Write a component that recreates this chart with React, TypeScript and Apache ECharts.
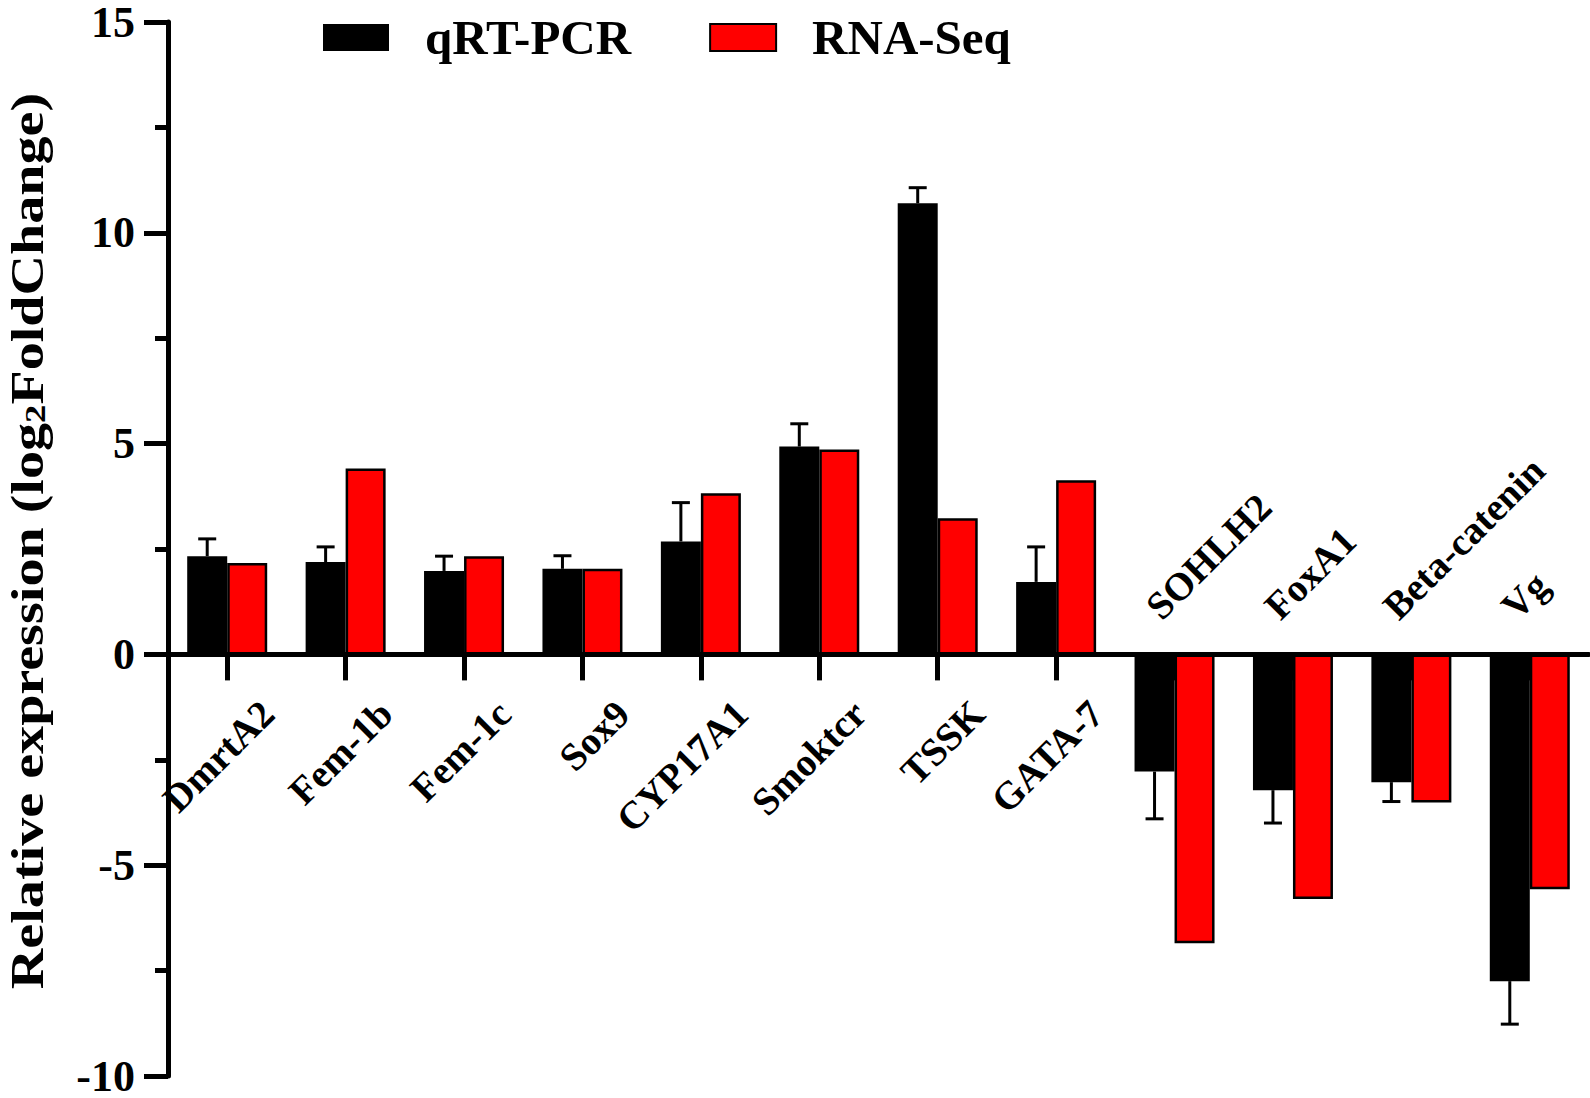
import React, { useEffect, useRef } from 'react';
import * as echarts from 'echarts';

const categories = ['DmrtA2', 'Fem-1b', 'Fem-1c', 'Sox9', 'CYP17A1', 'Smoktcr', 'TSSK', 'GATA-7', 'SOHLH2', 'FoxA1', 'Beta-catenin', 'Vg'];
const qrtPcr = [2.33, 2.19, 1.98, 2.03, 2.68, 4.93, 10.7, 1.72, -2.78, -3.22, -3.03, -7.75];
const qrtPcrError = [0.41, 0.36, 0.35, 0.31, 0.92, 0.54, 0.37, 0.83, 1.12, 0.78, 0.46, 1.02];
const rnaSeq = [2.17, 4.41, 2.33, 2.03, 3.82, 4.86, 3.23, 4.13, -6.85, -5.8, -3.51, -5.57];
const seriesNames = ['qRT-PCR', 'RNA-Seq'];
const yTitle = '{a|Relative expression (log}{b|2}{a|FoldChange)}';
const yMin = -10;
const yMax = 15;
const yInterval = 5;

const SERIF = '"Liberation Serif", "Times New Roman", serif';
const BAR_W = 40;

export default function App() {
  const ref = useRef<HTMLDivElement>(null);

  useEffect(() => {
    if (!ref.current) return;
    const chart = echarts.init(ref.current, null, { renderer: 'svg' });

    const option: any = {
      animation: false,
      backgroundColor: '#ffffff',
      grid: { left: 168, right: 1, top: 16, bottom: 19, containLabel: false },
      legend: {
        data: seriesNames,
        left: 318,
        top: 8,
        itemWidth: 66,
        itemHeight: 27,
        itemGap: 78,
        selectedMode: false,
        icon: 'rect',
        textStyle: {
          fontSize: 49,
          fontWeight: 'bold',
          fontFamily: SERIF,
          color: '#000',
          padding: [0, 0, 0, 31],
        },
      },
      graphic: [
        {
          type: 'text',
          x: 27,
          y: 541,
          rotation: Math.PI / 2,
          scaleX: 1.22,
          scaleY: 1,
          style: {
            text: yTitle,
            align: 'center',
            verticalAlign: 'middle',
            rich: {
              a: { fontSize: 46, fontWeight: 'bold', fontFamily: SERIF, fill: '#000', lineHeight: 46 },
              b: { fontSize: 30, fontWeight: 'bold', fontFamily: SERIF, fill: '#000', lineHeight: 30, verticalAlign: 'bottom' },
            },
          },
        },
      ],
      xAxis: {
        type: 'category',
        data: categories,
        axisLine: { show: true, onZero: true, lineStyle: { color: '#000', width: 5 } },
        axisTick: { show: true, alignWithLabel: true, length: 26, lineStyle: { color: '#000', width: 5 } },
        axisLabel: { show: false },
        splitLine: { show: false },
      },
      yAxis: {
        type: 'value',
        min: yMin,
        max: yMax,
        interval: yInterval,
        axisLine: { show: true, lineStyle: { color: '#000', width: 5 } },
        axisTick: { show: true, length: 24, lineStyle: { color: '#000', width: 5 } },
        minorTick: { show: true, splitNumber: 2, length: 13, lineStyle: { color: '#000', width: 5 } },
        axisLabel: { fontSize: 44, fontWeight: 'bold', fontFamily: SERIF, color: '#000', margin: 33, lineHeight: 30 },
        splitLine: { show: false },
        minorSplitLine: { show: false },
      },
      series: [
        {
          name: seriesNames[0],
          type: 'bar',
          data: qrtPcr,
          barWidth: BAR_W,
          barGap: '0%',
          itemStyle: { color: '#000000' },
        },
        {
          name: seriesNames[1],
          type: 'bar',
          data: rnaSeq,
          barWidth: BAR_W,
          barGap: '0%',
          itemStyle: { color: '#ff0000', borderColor: '#000000', borderWidth: 2.5 },
        },
        {
          name: 'errorBars',
          type: 'custom',
          data: qrtPcr.map((v, i) => [i, v, qrtPcrError[i]]),
          z: 5,
          renderItem: (params: any, api: any) => {
            const i = params.dataIndex;
            const v = api.value(1);
            const e = api.value(2);
            const base = api.coord([i, v]);
            const tip = api.coord([i, v >= 0 ? v + e : v - e]);
            const x = base[0] - BAR_W / 2;
            return {
              type: 'group',
              children: [
                { type: 'line', shape: { x1: x, y1: base[1], x2: x, y2: tip[1] }, style: { stroke: '#000', lineWidth: 3 } },
                { type: 'line', shape: { x1: x - 9, y1: tip[1], x2: x + 9, y2: tip[1] }, style: { stroke: '#000', lineWidth: 3 } },
              ],
            };
          },
        },
        {
          name: 'categoryLabels',
          type: 'custom',
          data: qrtPcr.map((v, i) => [i, v]),
          z: 6,
          renderItem: (params: any, api: any) => {
            const i = params.dataIndex;
            const v = api.value(1);
            const up = v >= 0;
            const p = api.coord([i, up ? -1.25 : 1.0]);
            return {
              type: 'text',
              x: p[0] + (up ? 40 : -22),
              y: p[1],
              rotation: Math.PI / 4,
              style: {
                text: categories[i],
                fontFamily: SERIF,
                fontWeight: 'bold',
                fontSize: 39,
                fill: '#000',
                align: up ? 'right' : 'left',
                verticalAlign: 'middle',
              },
            };
          },
        },
      ],
    };

    chart.setOption(option);
    return () => chart.dispose();
  }, []);

  return (
    <div
      ref={ref}
      style={{ position: 'absolute', left: 0, top: 0, width: 1590, height: 1098, background: '#fff' }}
    />
  );
}
